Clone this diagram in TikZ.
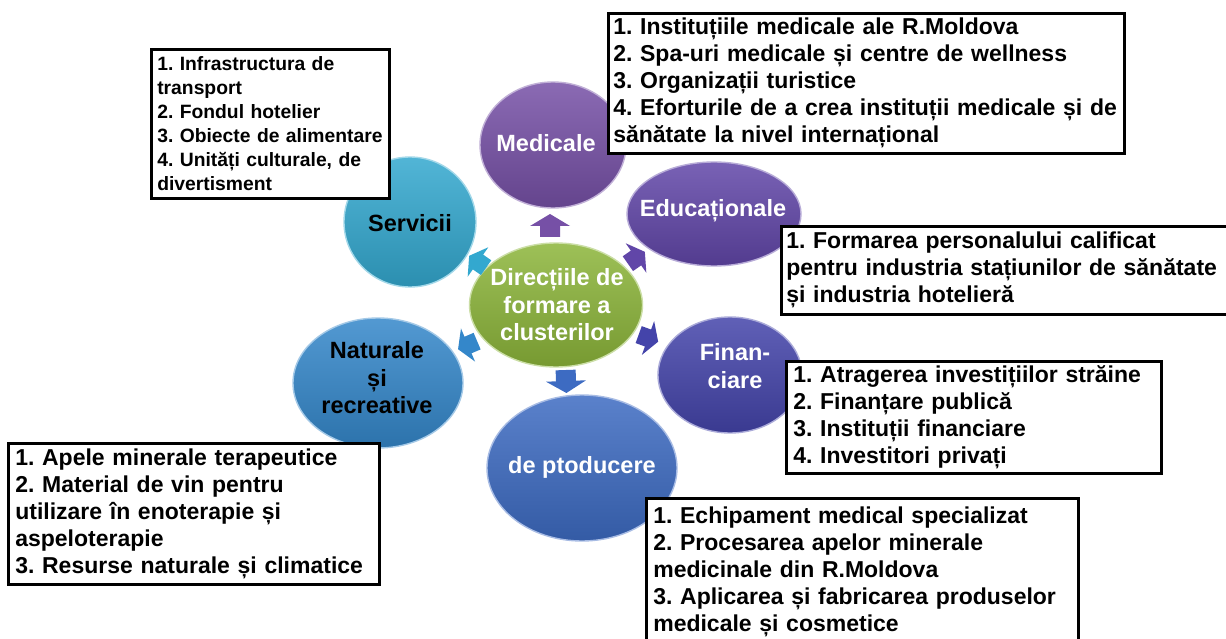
\documentclass[tikz,border=0pt]{standalone}
\usepackage{fontspec}
\setmainfont{Liberation Sans}
\usetikzlibrary{shapes.geometric}
\definecolor{cServ}{HTML}{33A8CF}
\definecolor{cMed}{HTML}{7650A6}
\definecolor{cEdu}{HTML}{6146A8}
\definecolor{cFin}{HTML}{4444AA}
\definecolor{cProd}{HTML}{3D6BC2}
\definecolor{cNat}{HTML}{3487CA}
\definecolor{cCen}{HTML}{8CB53A}
\begin{document}
\frenchspacing
\hyphenpenalty=10000
\exhyphenpenalty=10000
\begin{tikzpicture}[x=1pt,y=-1pt,
  bubble/.style={ellipse, inner sep=0pt, line width=1.4pt, draw=#1!45!white,
    top color=#1!85!white, bottom color=#1!85!black},
  blabel/.style={font=\bfseries\fontsize{23.5}{27.5}\selectfont, align=center, inner sep=0pt},
  infobox/.style={draw=black, line width=2.6pt, fill=white, align=left, anchor=north west,
    inner xsep=7pt, inner ysep=2pt, font=\bfseries\fontsize{23}{27}\selectfont},
  blockarrow/.pic={\path[pic actions] (-11,-10) -- (0,-10) -- (0,-20) -- (12,0) -- (0,20) -- (0,10) -- (-11,10) -- cycle;}
]
\fill[white] (0,0) rectangle (1226,639);
\useasboundingbox (0,0) rectangle (1226,639);

% bubbles
\node[bubble=cServ, minimum width=132, minimum height=130] (serv) at (410,222) {};
\node[bubble=cMed, minimum width=146, minimum height=126] (med) at (553,145) {};
\node[bubble=cEdu, minimum width=174, minimum height=104] (edu) at (714,214) {};
\node[bubble=cFin, minimum width=144, minimum height=116] (fin) at (730,375) {};
\node[bubble=cNat, minimum width=170, minimum height=130] (nat) at (378,383) {};
\node[bubble=cProd, minimum width=190, minimum height=146] (prod) at (582,468) {};
\node[bubble=cCen, minimum width=173, minimum height=124] (cen) at (556,305) {};

% bubble labels
\node[blabel, text=black] (servt) at (410,223) {Servicii};
\node[blabel, text=white] (medt) at (546,143) {Medicale};
\node[blabel, text=white] (edut) at (713,211) {Educaționale};
\node[blabel, text=white] (fint) at (735,366) {Finan-\\ciare};
\node[blabel, text=black] (natt) at (377,378) {Naturale\\și\\recreative};
\node[blabel, text=white] (prodt) at (582,467) {de ptoducere};
\node[blabel, text=white] (cent) at (557,305) {Direcțiile de\\formare a\\clusterilor};

% block arrows
\pic[rotate=90, fill=cMed] at (550,226) {blockarrow};
\pic[rotate=145, scale=0.9, fill=cServ] at (478,262) {blockarrow};
\pic[rotate=35, scale=0.9, fill=cEdu] at (636,258) {blockarrow};
\pic[rotate=-20, scale=0.9, fill=cFin] at (648,338) {blockarrow};
\pic[rotate=203, scale=0.9, fill=cNat] at (468,345) {blockarrow};
\pic[rotate=-88, fill=cProd] at (566,381) {blockarrow};

% info boxes
\node[infobox, inner xsep=6pt, text width=226, minimum height=149,
  font=\bfseries\fontsize{19.3}{24}\selectfont] (bserv) at (150,48)
  {1. Infrastructura de\\transport\\2. Fondul hotelier\\3. Obiecte de alimentare\\4. Unități culturale, de\\divertisment};
\node[infobox, inner xsep=5pt, text width=506, minimum height=140] (bmed) at (607,12)
  {1. Instituțiile medicale ale R.Moldova\\2. Spa-uri medicale și centre de wellness\\3. Organizații turistice\\4. Eforturile de a crea instituții medicale și de\\sănătate la nivel internațional};
\node[infobox, inner xsep=5pt, text width=440, minimum height=88] (bedu) at (780,225)
  {1. Formarea personalului calificat\\pentru industria stațiunilor de sănătate\\și industria hotelieră};
\node[infobox, text width=361, minimum height=112] (bfin) at (785,360)
  {1. Atragerea investițiilor străine\\2. Finanțare publică\\3. Instituții financiare\\4. Investitori privați};
\node[infobox, text width=357, minimum height=141] (bnat) at (7,442)
  {1. Apele minerale terapeutice\\2. Material de vin pentru\\utilizare în enoterapie și\\aspeloterapie\\3. Resurse naturale și climatice};
\node[infobox, text width=418, minimum height=147] (bprod) at (645,497)
  {1. Echipament medical specializat\\2. Procesarea apelor minerale\\medicinale din R.Moldova\\3. Aplicarea și fabricarea produselor\\medicale și cosmetice};
\end{tikzpicture}
\end{document}
